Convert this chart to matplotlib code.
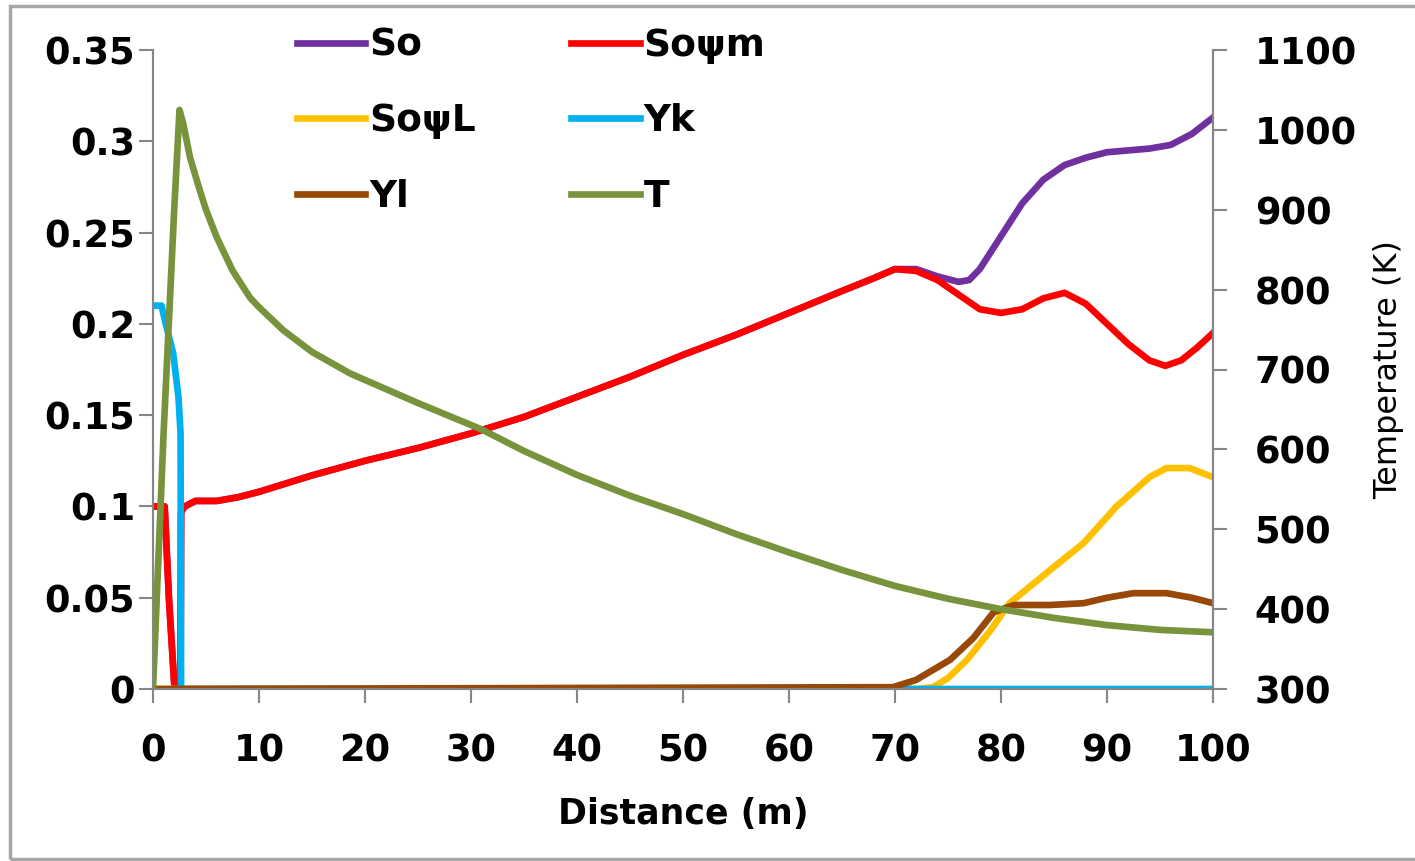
import matplotlib.pyplot as plt
from matplotlib.patches import Rectangle

# Mole fractions along the reactor (left axis)
x_so = [0, 1.1, 1.5, 2.0, 2.6, 2.65, 3, 4, 6, 8, 10, 15, 20, 25, 30, 35, 40, 45, 50, 55,
        60, 65, 68, 70, 72, 74, 76, 77, 78, 80, 82, 84, 86, 88, 90, 92, 94, 96, 98, 100]
so = [0.1, 0.1, 0.05, 0.003, 0.0, 0.097, 0.1, 0.103, 0.103, 0.105, 0.108, 0.117, 0.125, 0.132,
      0.14, 0.149, 0.16, 0.171, 0.183, 0.194, 0.206, 0.218, 0.225, 0.23, 0.23, 0.226, 0.223,
      0.224, 0.23, 0.248, 0.266, 0.279, 0.287, 0.291, 0.294, 0.295, 0.296, 0.298, 0.304, 0.313]

x_som = [0, 1.1, 1.5, 2.0, 2.6, 2.65, 3, 4, 6, 8, 10, 15, 20, 25, 30, 35, 40, 45, 50, 55,
         60, 65, 68, 70, 72, 74, 76, 78, 80, 82, 84, 86, 88, 90, 92, 94, 95.5, 97, 98.5, 100]
so_psi_m = [0.1, 0.1, 0.05, 0.003, 0.0, 0.097, 0.1, 0.103, 0.103, 0.105, 0.108, 0.117, 0.125,
            0.132, 0.14, 0.149, 0.16, 0.171, 0.183, 0.194, 0.206, 0.218, 0.225, 0.23, 0.229,
            0.224, 0.216, 0.208, 0.206, 0.208, 0.214, 0.217, 0.211, 0.2, 0.189, 0.18, 0.177,
            0.18, 0.187, 0.195]

x_sol = [0, 72, 73.6, 75, 76.8, 79, 80.8, 84.6, 87.8, 90.9, 94, 95.6, 97.8, 100]
so_psi_l = [0, 0, 0.001, 0.006, 0.016, 0.032, 0.047, 0.065, 0.08, 0.1, 0.116, 0.121, 0.121, 0.116]

x_yk = [0, 0.8, 1.2, 1.9, 2.4, 2.6, 2.65, 100]
yk = [0.21, 0.21, 0.2, 0.184, 0.16, 0.14, 0.0, 0.0]

x_yl = [0, 69.8, 72, 75.2, 77.4, 79.3, 81.2, 84.6, 87.8, 90, 92.5, 95.6, 98, 100]
yl = [0, 0.001, 0.005, 0.016, 0.028, 0.042, 0.046, 0.046, 0.047, 0.05, 0.0525, 0.0525, 0.05, 0.047]

# Temperature profile (right axis)
x_t = [0, 1, 2, 2.5, 2.85, 3.5, 4.4, 5, 6, 7.5, 9.15, 10, 12.3, 15, 18.6, 25, 31, 35, 40, 45,
       50, 55, 60, 65, 70, 75, 80, 85, 90, 95, 100]
temp = [300, 620, 900, 1025, 1008, 965, 925, 900, 866, 824, 790, 778, 749, 722, 695, 658, 625,
        598, 568, 542, 519, 494, 471, 449, 429, 413, 400, 389, 380, 374, 371]

left_ticks = [0, 0.05, 0.1, 0.15, 0.2, 0.25, 0.3, 0.35]
left_labels = ['0', '0.05', '0.1', '0.15', '0.2', '0.25', '0.3', '0.35']
right_ticks = [300, 400, 500, 600, 700, 800, 900, 1000, 1100]
x_ticks = [0, 10, 20, 30, 40, 50, 60, 70, 80, 90, 100]

fig = plt.figure(figsize=(14.15, 8.61), dpi=100)
ax = fig.add_axes([153 / 1415, 1 - 689 / 861, (1213 - 153) / 1415, (689 - 50) / 861])
ax2 = ax.twinx()

lw = 4.8
l1, = ax.plot(x_so, so, color='#7030A0', lw=lw, label='So')
l2, = ax.plot(x_som, so_psi_m, color='#FF0000', lw=lw, label='Soψm')
l3, = ax.plot(x_sol, so_psi_l, color='#FFC000', lw=lw, label='SoψL')
l4, = ax.plot(x_yk, yk, color='#00B0F0', lw=lw, label='Yk')
l5, = ax.plot(x_yl, yl, color='#984807', lw=lw, label='Yl')
l6, = ax2.plot(x_t, temp, color='#77933C', lw=lw, label='T')

ax.set_xlim(0, 100)
ax.set_ylim(0, 0.35)
ax2.set_ylim(300, 1100)

gray = '#868686'
for a in (ax, ax2):
    a.spines['top'].set_visible(False)
    for s in ('left', 'right', 'bottom'):
        a.spines[s].set_color(gray)
        a.spines[s].set_linewidth(1.5)

ax.set_yticks(left_ticks)
ax.set_yticklabels(left_labels)
ax.set_xticks(x_ticks)
ax2.set_yticks(right_ticks)

ax.tick_params(axis='y', length=10, width=1.5, color=gray, pad=3, labelsize=26.5)
ax.tick_params(axis='x', length=10, width=1.5, color=gray, pad=21, labelsize=26.5)
ax2.tick_params(axis='y', length=10, width=1.5, color=gray, pad=20, labelsize=26.5)
for lab in ax.get_xticklabels() + ax.get_yticklabels() + ax2.get_yticklabels():
    lab.set_fontweight('bold')

ax.set_xlabel('Distance (m)', fontsize=25, fontweight='bold', labelpad=20)
ax2.set_ylabel('Temperature (K)', fontsize=23, labelpad=12)

fig.legend([l1, l3, l5, l2, l4, l6], ['So', 'SoψL', 'Yl', 'Soψm', 'Yk', 'T'],
           ncol=2, loc='upper left', bbox_to_anchor=(297 / 1415, 1 - 28 / 861),
           frameon=False, handlelength=1.82, handletextpad=0.1, labelspacing=1.05,
           columnspacing=2.55, borderpad=0, borderaxespad=0,
           prop={'size': 27, 'weight': 'bold'})

# light frame around the chart area; its right edge runs past the image
fig.patches.append(Rectangle((10 / 1415, 2 / 861), 1420 / 1415, 853 / 861,
                             transform=fig.transFigure, fill=False,
                             edgecolor='#A6A6A6', lw=2.5))

fig.savefig('out.png', dpi=100)
